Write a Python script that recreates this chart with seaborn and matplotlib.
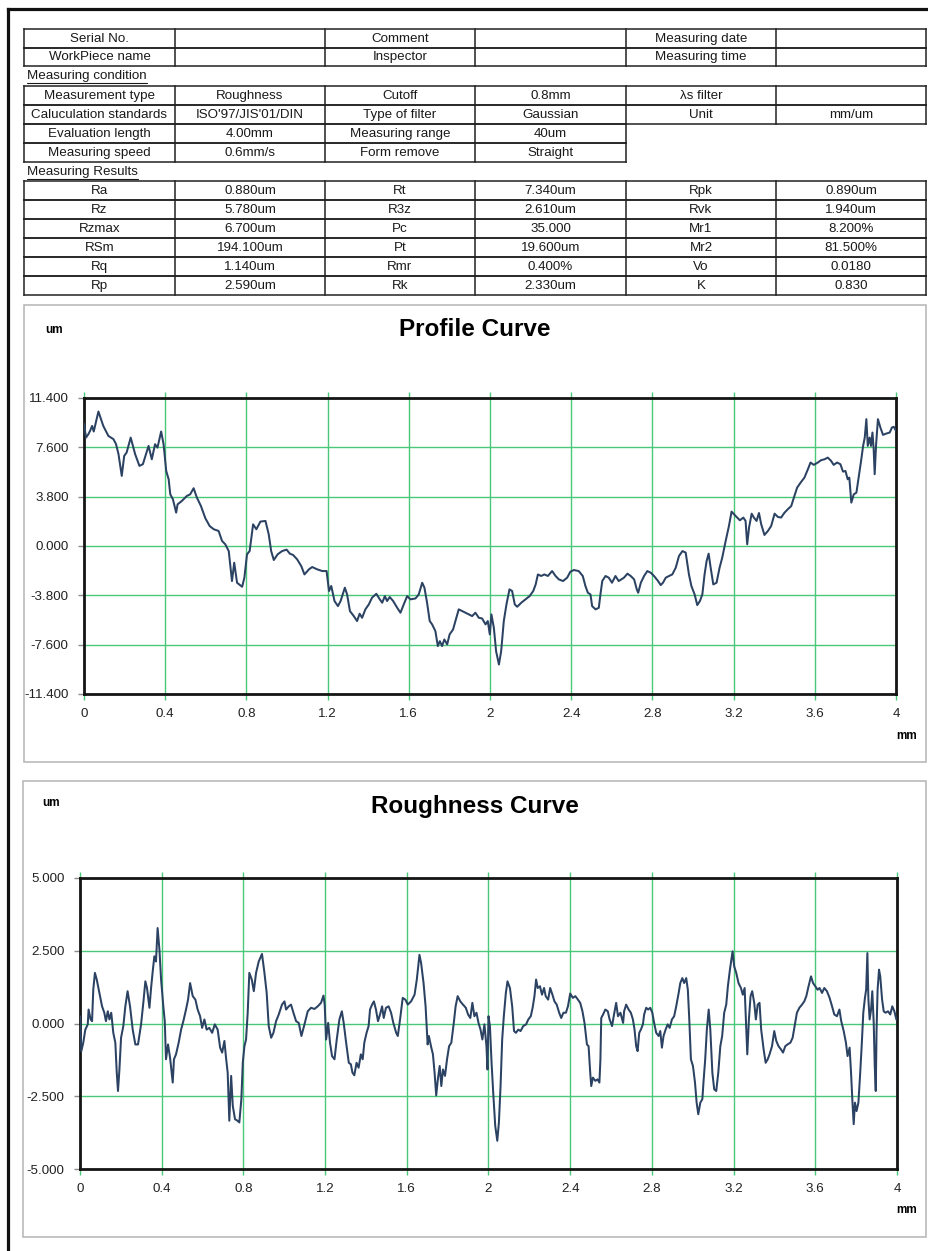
import numpy as np
import matplotlib
matplotlib.use("Agg")
import matplotlib.pyplot as plt
from matplotlib.lines import Line2D
from matplotlib.patches import Rectangle
from matplotlib.ticker import FuncFormatter
import seaborn as sns

# ---------------- report data ----------------
header_rows = [
    ["Serial No.", "", "Comment", "", "Measuring date", ""],
    ["WorkPiece name", "", "Inspector", "", "Measuring time", ""],
]
condition_rows = [
    ["Measurement type", "Roughness", "Cutoff", "0.8mm", "λs filter", ""],
    ["Caluculation standards", "ISO'97/JIS'01/DIN", "Type of filter", "Gaussian", "Unit", "mm/um"],
    ["Evaluation length", "4.00mm", "Measuring range", "40um"],
    ["Measuring speed", "0.6mm/s", "Form remove", "Straight"],
]
result_names_1 = ["Ra", "Rz", "Rzmax", "RSm", "Rq", "Rp"]
result_values_1 = ["0.880um", "5.780um", "6.700um", "194.100um", "1.140um", "2.590um"]
result_names_2 = ["Rt", "R3z", "Pc", "Pt", "Rmr", "Rk"]
result_values_2 = ["7.340um", "2.610um", "35.000", "19.600um", "0.400%", "2.330um"]
result_names_3 = ["Rpk", "Rvk", "Mr1", "Mr2", "Vo", "K"]
result_values_3 = ["0.890um", "1.940um", "8.200%", "81.500%", "0.0180", "0.830"]

profile_ticks_um = [-11.4, -7.6, -3.8, 0.0, 3.8, 7.6, 11.4]
roughness_ticks_um = [-5.0, -2.5, 0.0, 2.5, 5.0]
x_ticks_mm = [0.0, 0.4, 0.8, 1.2, 1.6, 2.0, 2.4, 2.8, 3.2, 3.6, 4.0]

# Profile curve (mm, um)
profile_mm = [
    0.000, 0.010, 0.021, 0.030, 0.040, 0.048, 0.071, 0.095, 0.120, 0.145, 0.158, 0.170,
    0.186, 0.198, 0.210, 0.230, 0.252, 0.273, 0.290, 0.318, 0.334, 0.350, 0.362, 0.380,
    0.392, 0.405, 0.417, 0.425, 0.438, 0.454, 0.461, 0.482, 0.507, 0.523, 0.540, 0.556,
    0.576, 0.598, 0.619, 0.639, 0.663, 0.680, 0.696, 0.713, 0.729, 0.740, 0.754, 0.779,
    0.790, 0.803, 0.816, 0.833, 0.849, 0.869, 0.894, 0.910, 0.922, 0.935, 0.954, 0.976,
    0.998, 1.014, 1.030, 1.050, 1.070, 1.086, 1.108, 1.124, 1.149, 1.174, 1.195, 1.207,
    1.218, 1.234, 1.251, 1.264, 1.285, 1.296, 1.310, 1.329, 1.345, 1.358, 1.370, 1.386,
    1.403, 1.419, 1.440, 1.457, 1.469, 1.482, 1.493, 1.506, 1.523, 1.543, 1.559, 1.575,
    1.592, 1.608, 1.633, 1.649, 1.666, 1.677, 1.690, 1.703, 1.715, 1.731, 1.743, 1.753,
    1.764, 1.775, 1.789, 1.801, 1.818, 1.834, 1.846, 1.863, 1.879, 1.896, 1.912, 1.928,
    1.945, 1.961, 1.978, 1.989, 1.999, 2.007, 2.019, 2.030, 2.044, 2.055, 2.068, 2.081,
    2.096, 2.109, 2.122, 2.134, 2.154, 2.175, 2.195, 2.213, 2.225, 2.236, 2.252, 2.268,
    2.285, 2.306, 2.323, 2.339, 2.360, 2.380, 2.396, 2.413, 2.437, 2.457, 2.470, 2.482,
    2.495, 2.503, 2.520, 2.536, 2.544, 2.553, 2.569, 2.585, 2.601, 2.618, 2.634, 2.660,
    2.677, 2.693, 2.710, 2.723, 2.730, 2.743, 2.759, 2.775, 2.792, 2.808, 2.828, 2.841,
    2.852, 2.866, 2.882, 2.898, 2.915, 2.931, 2.948, 2.964, 2.980, 2.992, 3.008, 3.021,
    3.034, 3.046, 3.057, 3.067, 3.077, 3.087, 3.100, 3.116, 3.131, 3.144, 3.161, 3.177,
    3.190, 3.210, 3.231, 3.248, 3.259, 3.267, 3.276, 3.289, 3.300, 3.313, 3.325, 3.336,
    3.352, 3.369, 3.385, 3.402, 3.418, 3.434, 3.451, 3.467, 3.484, 3.497, 3.513, 3.530,
    3.549, 3.566, 3.579, 3.595, 3.615, 3.631, 3.648, 3.664, 3.680, 3.693, 3.710, 3.726,
    3.739, 3.751, 3.762, 3.770, 3.780, 3.792, 3.805, 3.816, 3.828, 3.838, 3.846, 3.854,
    3.861, 3.870, 3.877, 3.884, 3.890, 3.895, 3.902, 3.911, 3.923, 3.936, 3.952, 3.969,
    3.980, 3.989, 4.000,
]
profile_um = [
    9.43, 8.35, 8.60, 8.87, 9.25, 8.82, 10.36, 9.25, 8.48, 8.23, 7.84, 7.07,
    5.40, 6.94, 7.20, 8.35, 7.07, 6.17, 6.30, 7.71, 6.68, 7.84, 7.58, 8.82,
    7.84, 5.78, 5.14, 3.98, 3.60, 2.57, 3.21, 3.47, 3.86, 3.98, 4.45, 3.73,
    3.08, 2.13, 1.54, 1.29, 1.16, 0.39, 0.13, -0.39, -2.70, -1.29, -2.83, -3.14,
    -2.44, -0.64, -0.39, 1.67, 1.29, 1.88, 1.93, 0.90, -0.39, -1.08, -0.64, -0.39,
    -0.28, -0.59, -0.69, -1.03, -1.54, -2.19, -1.80, -1.62, -1.80, -1.93, -1.93, -3.47,
    -3.08, -4.24, -4.63, -4.24, -3.21, -3.73, -5.01, -5.40, -5.78, -5.22, -5.53, -4.88,
    -4.50, -3.98, -3.68, -4.11, -4.37, -3.86, -4.24, -3.93, -4.24, -4.76, -5.14, -4.50,
    -3.86, -4.11, -4.04, -3.73, -2.83, -3.21, -4.37, -5.78, -6.04, -6.56, -7.71, -7.33,
    -7.71, -7.20, -7.58, -6.81, -6.43, -5.53, -4.88, -5.01, -5.14, -5.27, -5.40, -5.14,
    -5.53, -5.58, -6.04, -5.78, -6.81, -5.27, -6.30, -8.10, -9.13, -8.10, -5.78, -4.50,
    -3.34, -3.47, -4.50, -4.68, -4.37, -4.11, -3.86, -3.47, -2.96, -2.19, -2.31, -2.19,
    -2.31, -1.93, -2.31, -2.57, -2.70, -2.44, -1.98, -1.85, -1.93, -2.31, -3.08, -3.60,
    -3.73, -4.63, -4.88, -4.76, -3.73, -2.70, -2.31, -2.44, -2.83, -2.31, -2.70, -2.44,
    -2.13, -2.31, -2.57, -3.34, -3.60, -2.83, -2.31, -1.93, -2.06, -2.31, -2.70, -3.01,
    -2.83, -2.44, -2.31, -2.19, -1.67, -0.77, -0.39, -0.51, -2.19, -3.08, -3.73, -4.55,
    -4.24, -3.73, -2.19, -1.16, -0.59, -1.67, -2.96, -2.83, -1.67, -0.90, 0.39, 1.54,
    2.65, 2.31, 1.98, 2.19, 1.93, 0.13, 1.41, 2.49, 2.19, 1.93, 2.54, 1.67,
    0.85, 1.16, 1.54, 2.49, 2.24, 2.19, 2.57, 2.83, 3.08, 3.73, 4.50, 4.88,
    5.27, 5.91, 6.43, 6.25, 6.43, 6.61, 6.68, 6.81, 6.56, 6.25, 6.43, 6.30,
    5.73, 5.78, 5.14, 5.27, 3.34, 3.98, 4.11, 5.27, 6.56, 7.71, 8.35, 9.77,
    7.71, 8.35, 7.71, 8.74, 7.46, 5.53, 7.84, 9.77, 9.13, 8.56, 8.66, 8.74,
    9.13, 9.18, 8.87,
]

# Roughness curve (mm, um)
roughness_mm = [
    0.000, 0.0065, 0.016, 0.026, 0.038, 0.042, 0.052, 0.059, 0.065, 0.073, 0.082, 0.095,
    0.108, 0.119, 0.127, 0.136, 0.144, 0.153, 0.163, 0.173, 0.180, 0.186, 0.193, 0.201,
    0.212, 0.222, 0.233, 0.245, 0.258, 0.271, 0.284, 0.299, 0.310, 0.320, 0.328, 0.340,
    0.348, 0.356, 0.364, 0.372, 0.380, 0.389, 0.397, 0.408, 0.415, 0.421, 0.431, 0.441,
    0.454, 0.460, 0.470, 0.483, 0.495, 0.506, 0.519, 0.529, 0.539, 0.552, 0.565, 0.576,
    0.588, 0.598, 0.609, 0.620, 0.633, 0.647, 0.660, 0.674, 0.686, 0.696, 0.707, 0.715,
    0.723, 0.731, 0.740, 0.748, 0.759, 0.771, 0.780, 0.790, 0.797, 0.805, 0.813, 0.821,
    0.829, 0.841, 0.851, 0.862, 0.875, 0.891, 0.903, 0.914, 0.924, 0.936, 0.947, 0.960,
    0.973, 0.989, 1.001, 1.009, 1.022, 1.033, 1.045, 1.058, 1.071, 1.084, 1.099, 1.115,
    1.131, 1.148, 1.164, 1.180, 1.192, 1.198, 1.205, 1.215, 1.224, 1.234, 1.246, 1.257,
    1.270, 1.282, 1.291, 1.303, 1.316, 1.326, 1.334, 1.343, 1.354, 1.364, 1.375, 1.384,
    1.392, 1.403, 1.413, 1.420, 1.430, 1.439, 1.449, 1.459, 1.469, 1.479, 1.487, 1.498,
    1.511, 1.523, 1.534, 1.548, 1.556, 1.567, 1.580, 1.593, 1.605, 1.621, 1.638, 1.649,
    1.662, 1.670, 1.682, 1.692, 1.702, 1.708, 1.720, 1.728, 1.736, 1.744, 1.752, 1.761,
    1.769, 1.777, 1.787, 1.797, 1.807, 1.818, 1.830, 1.839, 1.849, 1.862, 1.875, 1.889,
    1.900, 1.911, 1.921, 1.931, 1.941, 1.951, 1.961, 1.970, 1.980, 1.990, 1.995, 2.000,
    2.007, 2.015, 2.023, 2.033, 2.043, 2.051, 2.059, 2.067, 2.075, 2.085, 2.093, 2.105,
    2.116, 2.125, 2.134, 2.146, 2.157, 2.170, 2.184, 2.195, 2.207, 2.216, 2.225, 2.233,
    2.241, 2.252, 2.262, 2.272, 2.280, 2.292, 2.302, 2.313, 2.323, 2.334, 2.346, 2.356,
    2.367, 2.379, 2.389, 2.400, 2.413, 2.425, 2.436, 2.449, 2.460, 2.470, 2.477, 2.482,
    2.490, 2.498, 2.503, 2.511, 2.523, 2.534, 2.543, 2.548, 2.552, 2.561, 2.572, 2.584,
    2.593, 2.605, 2.613, 2.625, 2.634, 2.646, 2.659, 2.664, 2.674, 2.686, 2.697, 2.707,
    2.715, 2.723, 2.730, 2.738, 2.746, 2.756, 2.762, 2.772, 2.782, 2.792, 2.802, 2.811,
    2.821, 2.833, 2.841, 2.849, 2.857, 2.867, 2.877, 2.887, 2.898, 2.909, 2.919, 2.931,
    2.939, 2.949, 2.958, 2.968, 2.976, 2.983, 2.991, 3.001, 3.011, 3.019, 3.027, 3.037,
    3.047, 3.053, 3.061, 3.069, 3.078, 3.086, 3.096, 3.105, 3.115, 3.125, 3.135, 3.144,
    3.154, 3.164, 3.172, 3.182, 3.189, 3.195, 3.203, 3.213, 3.224, 3.236, 3.245, 3.254,
    3.260, 3.267, 3.275, 3.283, 3.291, 3.301, 3.309, 3.318, 3.327, 3.335, 3.347, 3.357,
    3.367, 3.376, 3.388, 3.399, 3.409, 3.420, 3.432, 3.442, 3.453, 3.464, 3.478, 3.489,
    3.499, 3.510, 3.522, 3.535, 3.546, 3.556, 3.567, 3.579, 3.589, 3.600, 3.611, 3.621,
    3.633, 3.644, 3.657, 3.670, 3.682, 3.693, 3.706, 3.718, 3.727, 3.739, 3.750, 3.758,
    3.768, 3.775, 3.782, 3.788, 3.794, 3.802, 3.811, 3.819, 3.827, 3.835, 3.843, 3.849,
    3.855, 3.860, 3.866, 3.873, 3.879, 3.886, 3.891, 3.896, 3.900, 3.905, 3.912, 3.918,
    3.927, 3.935, 3.944, 3.956, 3.967, 3.977, 3.987, 3.997,
]
roughness_um = [
    0.25, -0.95, -0.66, -0.21, -0.03, 0.48, 0.14, 0.08, 1.16, 1.74, 1.51, 1.05,
    0.59, 0.37, 0.08, 0.42, 0.14, 0.37, -0.32, -0.66, -1.69, -2.32, -1.58, -0.49,
    -0.09, 0.59, 1.11, 0.59, -0.21, -0.72, -0.72, -0.03, 0.71, 1.45, 1.22, 0.54,
    1.22, 1.79, 2.31, 2.13, 3.28, 2.53, 1.51, 0.59, 0.08, -1.23, -0.72, -1.18,
    -2.03, -1.23, -1.06, -0.66, -0.21, 0.08, 0.48, 0.82, 1.39, 0.94, 0.82, 0.48,
    0.25, -0.15, 0.14, -0.21, -0.15, -0.32, -0.03, -0.21, -0.83, -1.00, -0.60, -1.18,
    -1.69, -3.34, -1.80, -2.83, -3.29, -3.34, -3.40, -2.60, -1.35, -0.78, -0.55, 0.37,
    1.74, 1.51, 1.11, 1.74, 2.13, 2.39, 1.74, 1.05, -0.09, -0.49, -0.32, 0.08,
    0.31, 0.65, 0.76, 0.48, 0.59, 0.65, 0.37, 0.08, 0.02, -0.43, -0.03, 0.42,
    0.54, 0.50, 0.59, 0.71, 0.96, 0.65, -0.55, 0.02, -0.66, -1.12, -1.23, -0.55,
    0.14, 0.42, 0.02, -0.66, -1.35, -1.40, -1.69, -1.78, -1.35, -1.52, -1.06, -1.23,
    -0.66, -0.32, -0.09, 0.48, 0.65, 0.76, 0.48, 0.08, 0.31, 0.59, 0.19, 0.54,
    0.59, 0.37, 0.02, -0.32, -0.43, 0.14, 0.88, 0.82, 0.65, 0.76, 0.99, 1.51,
    2.36, 2.08, 1.39, 0.59, -0.72, -0.43, -0.83, -1.06, -1.69, -2.47, -1.92, -1.46,
    -2.15, -1.58, -1.80, -1.23, -0.78, -0.66, 0.02, 0.59, 0.94, 0.76, 0.65, 0.54,
    0.31, 0.19, 0.71, 0.25, 0.37, 0.02, -0.21, -0.55, -0.03, -0.78, -1.58, 0.25,
    -0.09, -1.35, -2.37, -3.52, -4.03, -3.40, -2.15, -0.55, 0.25, 1.05, 1.45, 1.22,
    0.59, -0.26, -0.32, -0.21, -0.26, -0.09, -0.03, 0.14, 0.25, 0.54, 0.94, 1.51,
    1.22, 1.28, 0.99, 1.22, 0.94, 0.82, 1.22, 0.99, 0.76, 0.65, 0.37, 0.19,
    0.37, 0.37, 0.59, 1.03, 0.88, 0.94, 0.84, 0.71, 0.42, 0.02, -0.43, -0.72,
    -0.78, -1.69, -2.15, -1.86, -1.97, -1.92, -2.03, -1.23, 0.19, 0.31, 0.48, 0.42,
    0.14, -0.09, 0.25, 0.71, 0.25, 0.37, 0.02, 0.42, 0.65, 0.48, 0.37, 0.14,
    -0.21, -0.78, -0.95, -0.32, -0.21, -0.03, 0.31, 0.54, 0.48, 0.54, 0.37, 0.02,
    -0.32, -0.43, -0.26, -0.83, -0.43, -0.21, -0.03, -0.15, 0.14, 0.25, 0.59, 1.05,
    1.39, 1.56, 1.39, 1.56, 1.16, 0.14, -1.23, -1.46, -2.03, -2.72, -3.12, -2.72,
    -2.60, -1.97, -1.23, -0.21, 0.48, -0.21, -1.69, -2.26, -2.32, -1.69, -0.78, -0.43,
    0.37, 0.65, 1.28, 1.85, 2.19, 2.48, 1.96, 1.74, 1.39, 1.22, 0.99, 1.22,
    0.14, -1.06, 0.14, 0.94, 1.11, 0.71, 0.14, 0.65, 0.71, -0.21, -0.89, -1.35,
    -1.23, -1.06, -0.78, -0.26, -0.60, -0.78, -0.89, -1.00, -0.78, -0.72, -0.66, -0.49,
    -0.09, 0.37, 0.54, 0.65, 0.76, 0.94, 1.28, 1.62, 1.39, 1.28, 1.16, 1.22,
    1.05, 1.22, 1.11, 0.88, 0.59, 0.31, 0.25, 0.48, 0.08, -0.26, -0.66, -1.12,
    -0.83, -1.69, -2.72, -3.46, -2.72, -3.01, -2.72, -1.80, -0.78, 0.37, 0.88, 1.16,
    2.42, 0.82, 0.14, 0.48, 1.11, 0.02, -1.46, -2.32, -0.21, 1.16, 1.85, 1.62,
    0.82, 0.42, 0.37, 0.42, 0.31, 0.59, 0.42, 0.14,
]

# ---------------- styling ----------------
sns.set_theme(style="white")
plt.rcParams["font.family"] = ["Liberation Sans", "DejaVu Sans"]

W, H = 929, 1251
LINE = "#2b4263"
GRID = "#48c878"
BOX = "#b4b4b4"
TXT = "#1a1a1a"

fig = plt.figure(figsize=(W / 100, H / 100), dpi=100)
fig.patch.set_facecolor("white")


def fx(px):
    return px / W


def fy(py):
    return 1 - py / H


def seg(x0, y0, x1, y1, lw=1.1, color="#222222"):
    fig.add_artist(Line2D([fx(x0), fx(x1)], [fy(y0), fy(y1)], transform=fig.transFigure,
                          lw=lw, color=color, solid_capstyle="projecting"))


def text(x, y, s, size=9.6, ha="center", weight="normal", color=TXT):
    return fig.text(fx(x), fy(y), s, ha=ha, va="center", fontsize=size,
                    fontweight=weight, color=color)


# page frame
seg(8, 9, W + 5, 9, lw=2.3, color="#111111")
seg(8, 9, 8, H + 5, lw=2.3, color="#111111")

cols = [24, 175, 325, 475, 626, 776, 926]


def draw_table(rows, top, row_h=19.0):
    for r, row in enumerate(rows):
        y0 = top + r * row_h
        y1 = y0 + row_h
        ncol = len(row)
        right = cols[ncol]
        seg(cols[0], y0, right, y0)
        seg(cols[0], y1, right, y1)
        for c in range(ncol + 1):
            seg(cols[c], y0, cols[c], y1)
        for c, s in enumerate(row):
            if s:
                text((cols[c] + cols[c + 1]) / 2, (y0 + y1) / 2 + 0.5, s)


def section_label(x, y, s):
    t = text(x, y, s, ha="left")
    fig.canvas.draw()
    bb = t.get_window_extent(renderer=fig.canvas.get_renderer())
    yb = bb.y0 - 0.5
    fig.add_artist(Line2D([bb.x0 / W, bb.x1 / W], [yb / H, yb / H], transform=fig.transFigure,
                          lw=0.8, color=TXT))


draw_table(header_rows, 29, row_h=18.6)
section_label(27, 76, "Measuring condition")
draw_table(condition_rows, 86, row_h=19.0)
section_label(27, 172, "Measuring Results")
result_rows = [list(r) for r in zip(result_names_1, result_values_1, result_names_2,
                                    result_values_2, result_names_3, result_values_3)]
draw_table(result_rows, 181, row_h=19.07)


def curve_panel(box, area, title, title_y, um_xy, mm_xy, xs, ys, yticks):
    bx0, by0, bx1, by1 = box
    fig.add_artist(Rectangle((fx(bx0), fy(by1)), (bx1 - bx0) / W, (by1 - by0) / H,
                             transform=fig.transFigure, fill=False, lw=1.1, edgecolor=BOX))
    text((bx0 + bx1) / 2, title_y, title, size=17.5, weight="bold", color="black")
    text(um_xy[0], um_xy[1], "um", size=8.5, weight="bold", color="black")
    text(mm_xy[0], mm_xy[1], "mm", size=8.5, weight="bold", color="black")

    ax0, ay0, ax1, ay1 = area
    ax = fig.add_axes([fx(ax0), fy(ay1), (ax1 - ax0) / W, (ay1 - ay0) / H])
    ax.set_facecolor("white")
    sns.lineplot(x=xs, y=ys, ax=ax, color=LINE, linewidth=1.45, estimator=None,
                 sort=False, zorder=3)
    ax.set_xlim(0, 4)
    ax.set_ylim(yticks[0], yticks[-1])
    ax.set_xticks(x_ticks_mm)
    ax.set_yticks(yticks)
    ax.xaxis.set_major_formatter(FuncFormatter(lambda v, p: f"{v:g}"))
    ax.yaxis.set_major_formatter(FuncFormatter(lambda v, p: f"{v:.3f}"))
    ax.grid(True, color=GRID, lw=1.0, zorder=1)
    ax.set_axisbelow(True)
    for sp in ax.spines.values():
        sp.set_visible(True)
        sp.set_color("#151515")
        sp.set_linewidth(2.0)
    ax.tick_params(axis="y", direction="out", length=4, width=1, color="#8a8a8a",
                   labelsize=9.6, labelcolor="#222222", pad=7, left=True)
    ax.tick_params(axis="x", direction="out", length=4, width=1, color=GRID,
                   labelsize=9.6, labelcolor="#222222", pad=6, bottom=True)
    ax.set_xlabel("")
    ax.set_ylabel("")
    top = ax.secondary_xaxis("top")
    top.set_xticks(x_ticks_mm)
    top.set_xticklabels([])
    top.tick_params(axis="x", direction="out", length=4, width=1, color=GRID)
    top.spines["top"].set_visible(False)
    return ax


curve_panel((24, 305, 926, 762), (84, 398, 896, 694), "Profile Curve", 330,
            (54, 330), (907, 736), profile_mm, profile_um, profile_ticks_um)
curve_panel((23, 781, 926, 1237), (80, 878, 897, 1169), "Roughness Curve", 807,
            (51, 803), (907, 1210), roughness_mm, roughness_um, roughness_ticks_um)

fig.savefig("out.png", dpi=100)
